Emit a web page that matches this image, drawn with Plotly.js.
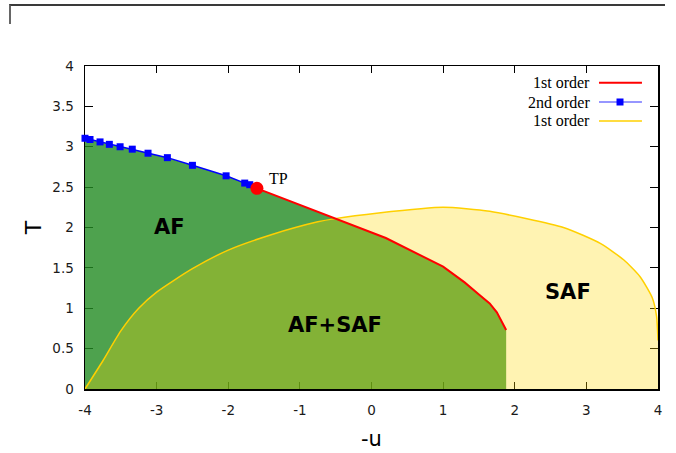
<!DOCTYPE html>
<html>
<head>
<meta charset="utf-8">
<script src="https://cdn.plot.ly/plotly-3.0.1.min.js"></script>
<style>
  html, body { margin: 0; padding: 0; background: #fff; }
  #wrap { position: relative; width: 676px; height: 453px; }
  #chart { width: 676px; height: 453px; }
  #frame { position: absolute; left: 9px; top: 4px; width: 654px; height: 18px;
           border-top: 2px solid #3a3a3a; border-left: 2px solid #666; pointer-events: none; }
</style>
</head>
<body>
<div id="wrap">
  <div id="chart"></div>
  <div id="frame"></div>
</div>
<script>
// 2nd order transition line (blue squares)
const blueMu = [-4.00, -3.93, -3.79, -3.66, -3.51, -3.34, -3.12, -2.85, -2.50, -2.03, -1.77, -1.70];
const blueT  = [3.105, 3.09, 3.06, 3.03, 3.00, 2.97, 2.92, 2.865, 2.77, 2.64, 2.55, 2.53];

// tricritical point
const tpMu = [-1.60];
const tpT  = [2.485];

// 1st order line (red), AF boundary
const redMu = [-1.60, -0.51, 0.20, 1.00, 1.30, 1.50, 1.65, 1.75, 1.88];
const redT  = [2.485, 2.11, 1.87, 1.515, 1.32, 1.17, 1.06, 0.95, 0.73];

// 1st order line (yellow), SAF boundary
const yelMu = [-4.00, -3.75, -3.50, -3.25, -3.00, -2.50, -2.00, -1.40, -0.75, -0.51, 0.10, 1.00, 1.65, 2.68, 3.20, 3.52, 3.75, 3.92, 3.98, 4.00];
const yelT  = [0.00, 0.35, 0.72, 1.00, 1.20, 1.49, 1.72, 1.91, 2.07, 2.11, 2.18, 2.25, 2.20, 2.00, 1.80, 1.60, 1.39, 1.13, 0.90, 0.60];

// phase labels
const phaseNames = ['AF', 'AF+SAF', 'SAF'];
const phaseMu    = [-2.82, -0.51, 2.74];
const phaseT     = [2.01, 0.79, 1.20];

// tick labels
const xTickVals = [-4, -3, -2, -1, 0, 1, 2, 3, 4];
const xTickText = ['-4', '-3', '-2', '-1', '0', '1', '2', '3', '4'];
const yTickVals = [0, 0.5, 1, 1.5, 2, 2.5, 3, 3.5, 4];
const yTickText = ['0', '0.5', '1', '1.5', '2', '2.5', '3', '3.5', '4'];

// legend entries
const legendNames = ['1st order', '2nd order', '1st order'];

const afMu = blueMu.concat(redMu);
const afT  = blueT.concat(redT);

const traces = [
  { x: afMu, y: afT, mode: 'none', fill: 'tozeroy',
    fillcolor: 'rgba(34,139,34,0.8)', hoverinfo: 'skip', showlegend: false },
  { x: yelMu, y: yelT, mode: 'none', fill: 'tozeroy',
    fillcolor: 'rgba(255,215,0,0.3)', hoverinfo: 'skip', showlegend: false },
  { x: yelMu, y: yelT, mode: 'lines', line: { color: '#ffd000', width: 1.5, shape: 'spline', smoothing: 0.6 }, showlegend: false },
  { x: redMu, y: redT, mode: 'lines', line: { color: '#ff0000', width: 2 }, showlegend: false },
  { x: blueMu.concat(tpMu), y: blueT.concat(tpT), mode: 'lines', line: { color: '#0000ff', width: 1.5 }, showlegend: false },
  { x: blueMu, y: blueT, mode: 'markers', cliponaxis: false,
    marker: { symbol: 'square', size: 7, color: '#0000ff' }, showlegend: false },
  { x: tpMu, y: tpT, mode: 'markers', cliponaxis: false,
    marker: { symbol: 'circle', size: 13, color: '#ff0000' }, showlegend: false }
];
traces[1].line = { shape: 'spline', smoothing: 0.6, width: 0 };

const tickFont = { family: 'DejaVu Sans', size: 13.5, color: '#1a1a1a' };
const serif = 'Liberation Serif';

const annotations = [];
for (let i = 0; i < phaseNames.length; i++) {
  annotations.push({ x: phaseMu[i], y: phaseT[i], xref: 'x', yref: 'y', text: '<b>' + phaseNames[i] + '</b>',
    showarrow: false, font: { family: 'DejaVu Sans', size: 21, color: '#000' } });
}
annotations.push({ x: tpMu[0] + 0.14, y: tpT[0] + 0.12, xref: 'x', yref: 'y', text: 'TP',
  xanchor: 'left', showarrow: false, font: { family: serif, size: 16, color: '#000' } });

const legY = [0.948, 0.8885, 0.830];
const legColors = ['#ff0000', 'rgba(0,0,255,0.55)', '#ffd000'];
const shapes = [];
for (let i = 0; i < legendNames.length; i++) {
  annotations.push({ x: 0.884, y: legY[i], xref: 'paper', yref: 'paper', text: legendNames[i],
    xanchor: 'right', yanchor: 'middle', showarrow: false, font: { family: serif, size: 16, color: '#000' } });
  shapes.push({ type: 'line', xref: 'paper', yref: 'paper', x0: 0.897, x1: 0.972, y0: legY[i], y1: legY[i],
    line: { color: legColors[i], width: i === 0 ? 2 : 1.5 } });
}
shapes.push({ type: 'rect', xref: 'paper', yref: 'paper', x0: 0.9276, x1: 0.9398, y0: 0.8777, y1: 0.8994,
  fillcolor: '#0000ff', line: { width: 0 } });

const layout = {
  width: 676, height: 453,
  margin: { l: 85, r: 18, t: 66, b: 64, pad: 0 },
  paper_bgcolor: '#ffffff', plot_bgcolor: '#ffffff',
  showlegend: false,
  xaxis: {
    range: [-4, 4], tickmode: 'array', tickvals: xTickVals, ticktext: xTickText,
    ticks: 'inside', ticklen: 7, tickwidth: 1, tickcolor: '#000',
    showline: true, linecolor: '#000', linewidth: 1.5, mirror: 'ticks', showgrid: false, zeroline: false,
    tickfont: tickFont, layer: 'below traces', ticklabelstandoff: 8,
    title: { text: '-u', font: { family: 'DejaVu Sans', size: 21, color: '#000' }, standoff: 14 }
  },
  yaxis: {
    range: [0, 4], tickmode: 'array', tickvals: yTickVals, ticktext: yTickText,
    ticks: 'inside', ticklen: 8, tickwidth: 1, tickcolor: '#000',
    showline: true, linecolor: '#000', linewidth: 1.5, mirror: 'ticks', showgrid: false, zeroline: false,
    tickfont: tickFont, layer: 'below traces', ticklabelstandoff: 7,
    title: { text: 'T', font: { family: 'DejaVu Sans', size: 22, color: '#000' }, standoff: 4 }
  },
  annotations: annotations,
  shapes: shapes
};

Plotly.newPlot('chart', traces, layout, { displayModeBar: false, staticPlot: true });
</script>
</body>
</html>
